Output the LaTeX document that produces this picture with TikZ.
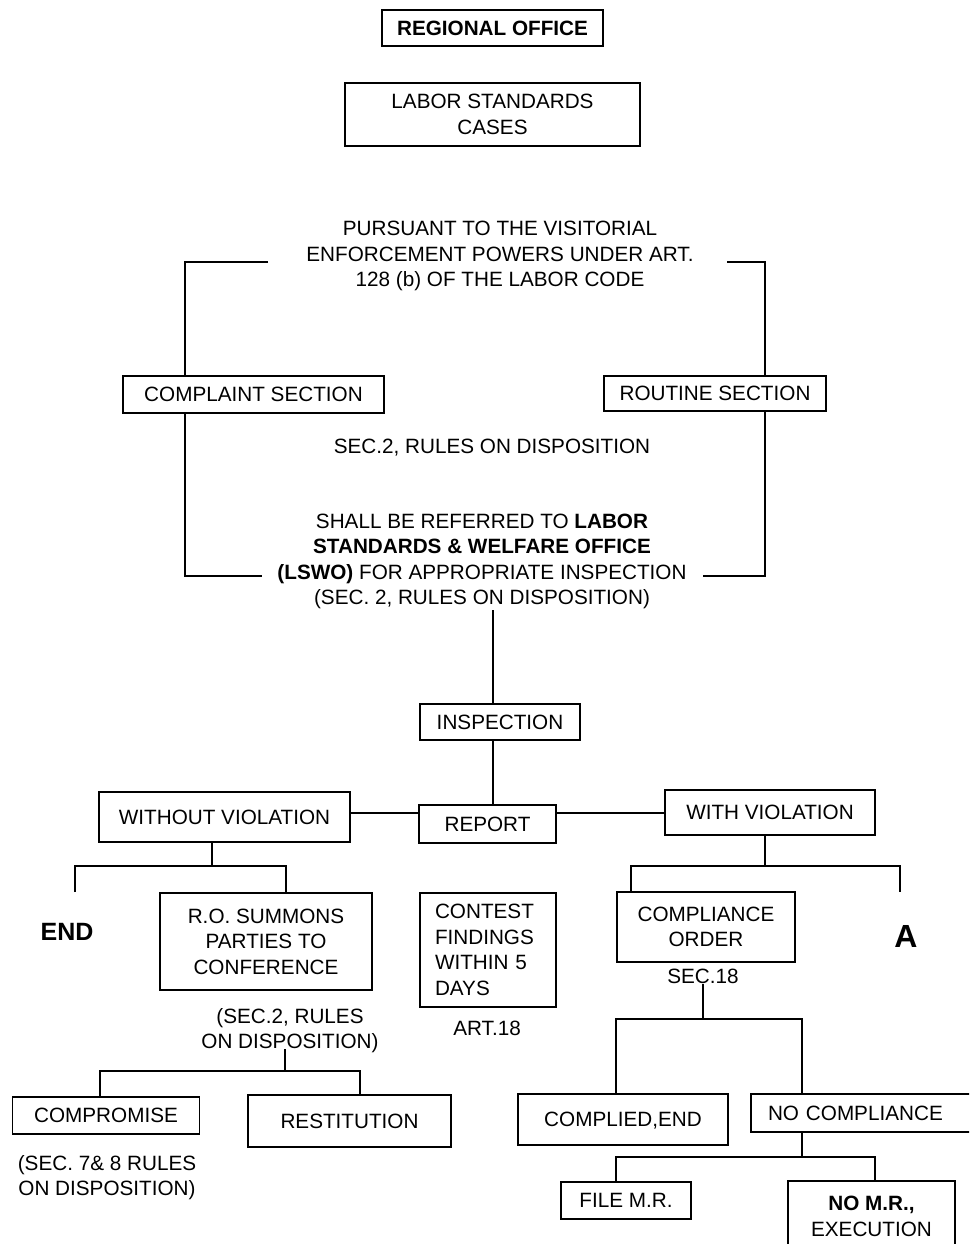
\documentclass[tikz,border=0pt]{standalone}
\usepackage{fontspec}
\setmainfont{Liberation Sans}
\newcommand\dfs{\fontsize{20.7}{25.5}\selectfont}
\begin{document}
\begin{tikzpicture}[x=1pt,y=-1pt,line width=1.3pt,
  box/.style={draw,inner sep=0pt,align=center,font=\dfs,text depth=0pt},
  lbl/.style={inner sep=0pt,align=center,font=\dfs,text depth=0pt}]
\useasboundingbox (0,0) rectangle (969,1244);
\fill[white] (0,0) rectangle (969,1244);
\clip (0,0) rectangle (969,1244);
% top
\node[box,minimum width=221pt,minimum height=36pt,font=\dfs\bfseries] (ro) at (492.5,28) {REGIONAL OFFICE};
\node[box,minimum width=295pt,minimum height=63pt,text depth=-5pt] (lsc) at (492.5,114.5) {LABOR STANDARDS\\CASES};
\node[lbl] (pur) at (500,254) {PURSUANT TO THE VISITORIAL\\ENFORCEMENT POWERS UNDER ART.\\128 (b) OF THE LABOR CODE};
\node[box,minimum width=261pt,minimum height=37pt] (cs) at (253.5,394.5) {COMPLAINT SECTION};
\node[box,minimum width=222pt,minimum height=35pt] (rs) at (715,393.5) {ROUTINE SECTION};
\node[lbl] (sec2) at (492,446) {SEC.2, RULES ON DISPOSITION};
\node[lbl] (shall) at (482,559.5) {SHALL BE REFERRED TO \textbf{LABOR}\\\textbf{STANDARDS \& WELFARE OFFICE}\\\textbf{(LSWO)} FOR APPROPRIATE INSPECTION\\(SEC. 2, RULES ON DISPOSITION)};
% brackets
\coordinate (pl) at (268,262);
\coordinate (plc) at (185,262);
\coordinate (pr) at (727,262);
\coordinate (prc) at (765,262);
\draw (pl) -- (plc) -- (plc |- cs.north);
\draw (pr) -- (prc) -- (prc |- rs.north);
\coordinate (cl2) at (185,576);
\coordinate (sl) at (262,576);
\coordinate (cr2) at (765,576);
\coordinate (sr) at (703,576);
\draw (cl2 |- cs.south) -- (cl2) -- (sl);
\draw (cr2 |- rs.south) -- (cr2) -- (sr);
% middle
\node[box,minimum width=160pt,minimum height=36pt] (insp) at (500,722) {INSPECTION};
\node[box,minimum width=137pt,minimum height=38pt] (rep) at (487.5,824) {REPORT};
\node[box,minimum width=251pt,minimum height=50pt] (wov) at (224.5,817) {WITHOUT VIOLATION};
\node[box,minimum width=210pt,minimum height=45pt] (wv) at (770,812.5) {WITH VIOLATION};
\coordinate (v1) at (493,610);
\draw (v1) -- (v1 |- insp.north);
\draw (v1 |- insp.south) -- (v1 |- rep.north);
\coordinate (h1) at (0,813);
\draw (h1 -| wov.east) -- (h1 -| rep.west);
\draw (h1 -| rep.east) -- (h1 -| wv.west);
% left branch
\node[inner sep=0pt,font=\fontsize{25}{30}\selectfont\bfseries,text depth=0pt] (end) at (67,932) {END};
\node[box,minimum width=212pt,minimum height=97pt] (ros) at (266,941.5) {R.O. SUMMONS\\PARTIES TO\\CONFERENCE};
\node[lbl] (rosn) at (290,1028.5) {(SEC.2, RULES\\ON DISPOSITION)};
\node[draw,font=\dfs,minimum height=114pt,text width=106pt,inner xsep=15pt,inner ysep=0pt,align=left] (con) at (488,950) {CONTEST\\FINDINGS\\WITHIN 5\\DAYS};
\node[lbl] (art18) at (487,1028) {ART.18};
\coordinate (j1) at (212,866);
\coordinate (e1) at (75,866);
\coordinate (e1b) at (75,892);
\coordinate (r1) at (286,866);
\draw (j1 |- wov.south) -- (j1);
\draw (e1b) -- (e1) -- (r1) -- (r1 |- ros.north);
\node[box,minimum width=187pt,minimum height=37pt] (comp) at (106,1115.5) {COMPROMISE};
\node[lbl] (compn) at (107,1175.5) {(SEC. 7\& 8 RULES\\ON DISPOSITION)};
\node[box,minimum width=203pt,minimum height=52pt] (rest) at (349.5,1121) {RESTITUTION};
\coordinate (k) at (285,1071);
\coordinate (kl) at (100,1071);
\coordinate (kr) at (360,1071);
\draw (k |- rosn.south) -- (k);
\draw (kl |- comp.north) -- (kl) -- (kr) -- (kr |- rest.north);
% right branch
\node[inner sep=0pt,font=\fontsize{32}{36}\selectfont\bfseries,text depth=0pt] (a) at (906,936) {A};
\node[box,minimum width=178pt,minimum height=70pt,text depth=-5pt] (co) at (706,927) {COMPLIANCE\\ORDER};
\node[lbl] (sec18) at (703,976) {SEC.18};
\coordinate (m) at (765,866);
\coordinate (ml) at (631,866);
\coordinate (mr) at (900,866);
\coordinate (mrb) at (900,892);
\draw (m |- wv.south) -- (m);
\draw (ml |- co.north) -- (ml) -- (mr) -- (mrb);
\node[box,minimum width=210pt,minimum height=51pt] (cpe) at (623,1119.5) {COMPLIED,END};
\node[draw,font=\dfs,minimum height=38pt,text width=215pt,inner xsep=17pt,inner ysep=0pt,align=left] (nc) at (875.5,1113) {NO COMPLIANCE};
\coordinate (n) at (703,1019);
\coordinate (nl) at (616,1019);
\coordinate (nr) at (802,1019);
\draw (n |- sec18.south) -- (n);
\draw (nl |- cpe.north) -- (nl) -- (nr) -- (nr |- nc.north);
\node[box,minimum width=130pt,minimum height=37pt] (fmr) at (626,1200.5) {FILE M.R.};
\node[box,minimum width=167pt,minimum height=71pt] (nmr) at (871.5,1216.5) {\textbf{NO M.R.,}\\EXECUTION};
\coordinate (p) at (802,1157);
\coordinate (ppl) at (616,1157);
\coordinate (ppr) at (875,1157);
\draw (p |- nc.south) -- (p);
\draw (ppl |- fmr.north) -- (ppl) -- (ppr) -- (ppr |- nmr.north);
\end{tikzpicture}
\end{document}
